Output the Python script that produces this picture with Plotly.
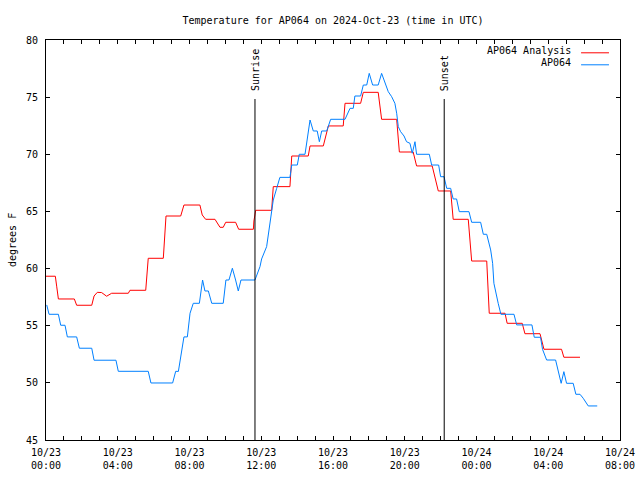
import plotly.graph_objects as go

# ---- data (hours since 2024-10-23 00:00 UTC, degrees F) ----
analysis_hours = [0.0, 0.52, 0.60, 0.69, 1.58, 1.71, 2.55, 2.68, 2.86, 3.10, 3.38, 3.66, 4.59, 4.68, 5.56, 5.70,
                  6.54, 6.69, 7.51, 7.69, 8.58, 8.71, 8.90, 9.42, 9.70, 9.88, 10.02, 10.57, 10.74, 11.56,
                  11.59, 11.69, 12.58, 12.67, 13.60, 13.70, 14.62, 14.72, 15.46, 15.74, 16.57, 16.67, 17.54,
                  17.69, 18.52, 18.71, 19.55, 19.70, 20.47, 20.66, 21.53, 21.87, 22.56, 22.70, 23.54, 23.73,
                  24.57, 24.71, 25.59, 25.71, 26.55, 26.70, 27.54, 27.76, 28.74, 28.87, 29.77]
analysis_temp = [59.33, 59.33, 58.4, 57.34, 57.34, 56.79, 56.79, 57.6, 57.92, 57.9, 57.58, 57.84, 57.84, 58.1, 58.1,
                 60.9, 60.9, 64.6, 64.6, 65.56, 65.56, 64.69, 64.31, 64.31, 63.61, 63.61, 64.05, 64.05, 63.44,
                 63.44, 64.16, 65.1, 65.1, 67.17, 67.17, 69.85, 69.85, 70.73, 70.73, 72.48, 72.48, 74.46,
                 74.46, 75.42, 75.42, 73.06, 73.06, 70.2, 70.2, 68.98, 68.98, 66.79, 66.79, 64.31, 64.31,
                 60.66, 60.66, 56.09, 56.09, 55.21, 55.21, 54.3, 54.3, 52.94, 52.94, 52.24, 52.24]

obs_hours = [0.04, 0.17, 0.69, 0.82, 1.06, 1.19, 1.71, 1.86, 2.55, 2.68, 3.90, 4.03, 5.70, 5.85, 7.06, 7.23,
             7.38, 7.56, 7.69, 7.88, 8.03, 8.21, 8.55, 8.73, 8.86, 9.05, 9.24, 9.88, 10.03, 10.20, 10.39,
             10.57, 10.72, 10.87, 11.65, 11.93, 12.02, 12.30, 12.49, 12.58, 12.67, 12.86, 13.04, 13.60,
             13.70, 14.01, 14.12, 14.44, 14.72, 14.90, 15.12, 15.24, 15.37, 15.65, 15.87, 16.67, 16.95,
             17.13, 17.22, 17.54, 17.69, 17.88, 18.02, 18.21, 18.52, 18.71, 18.90, 19.08, 19.27, 19.45,
             19.55, 19.64, 19.77, 19.96, 20.10, 20.29, 20.42, 20.57, 20.66, 21.37, 21.50, 21.89, 22.00,
             22.19, 22.34, 22.56, 22.70, 22.89, 23.04, 23.58, 23.73, 24.23, 24.38, 24.57, 24.79, 24.90,
             24.97, 25.08, 25.21, 25.36, 26.09, 26.24, 27.09, 27.22, 27.57, 27.68, 27.91, 28.41, 28.50,
             28.61, 28.72, 28.87, 29.02, 29.39, 29.54, 29.77, 29.95, 30.23, 30.73]
obs_temp = [56.82, 56.0, 56.0, 55.04, 55.04, 54.02, 54.02, 53.03, 53.03, 51.98, 51.98, 51.01, 51.01, 49.99,
            49.99, 51.01, 51.0, 53.03, 54.02, 54.02, 56.09, 56.96, 56.96, 59.0, 58.04, 58.04, 56.96, 56.96,
            59.0, 59.0, 60.03, 59.0, 58.04, 59.0, 59.0, 60.17, 60.84, 61.92, 64.25, 65.13, 66.0, 67.02,
            67.98, 67.98, 69.06, 69.06, 70.0, 70.0, 73.0, 72.04, 72.04, 71.1, 72.04, 72.04, 73.06, 73.06,
            74.02, 74.02, 75.1, 75.1, 76.06, 76.06, 77.08, 76.06, 76.06, 77.08, 76.2, 75.48, 75.04, 74.46,
            73.59, 72.42, 71.98, 71.6, 71.1, 70.96, 70.09, 71.1, 70.0, 70.0, 69.06, 69.06, 68.04,
            68.04, 67.02, 67.02, 66.09, 66.09, 64.98, 64.98, 64.05, 64.05, 63.0, 63.0, 61.63, 60.46,
            58.71, 57.84, 56.96, 56.0, 56.0, 55.07, 55.07, 53.99, 53.99, 52.94, 52.0, 52.0, 51.42,
            50.54, 49.96, 50.98, 49.96, 49.96, 49.0, 49.0, 48.65, 47.98, 47.98]

sunrise_hour = 11.65
sunset_hour = 22.2

x_tick_vals = list(range(0, 33))
x_tick_labels = {0: "10/23<br>00:00", 4: "10/23<br>04:00", 8: "10/23<br>08:00", 12: "10/23<br>12:00",
                 16: "10/23<br>16:00", 20: "10/23<br>20:00", 24: "10/24<br>00:00", 28: "10/24<br>04:00",
                 32: "10/24<br>08:00"}
x_tick_text = [x_tick_labels.get(v, "") for v in x_tick_vals]
y_tick_vals = [45, 50, 55, 60, 65, 70, 75, 80]

FONT = "DejaVu Sans Mono"

fig = go.Figure()
fig.add_trace(go.Scatter(x=analysis_hours, y=analysis_temp, mode="lines", name="AP064 Analysis",
                         line=dict(color="#ff0000", width=1), showlegend=False))
fig.add_trace(go.Scatter(x=obs_hours, y=obs_temp, mode="lines", name="AP064",
                         line=dict(color="#0080ff", width=1), showlegend=False))

for h, label in [(sunrise_hour, "Sunrise"), (sunset_hour, "Sunset")]:
    fig.add_shape(type="line", xref="x", yref="paper", x0=h, x1=h, y0=0, y1=0.8525,
                  line=dict(color="black", width=1))
    fig.add_annotation(x=h, xref="x", y=0.8675, yref="paper", text=label, textangle=-90,
                       showarrow=False, xanchor="center", yanchor="bottom", xshift=1,
                       font=dict(family=FONT, size=10, color="black"))

# legend (gnuplot style: text left of sample)
legend_items = [("AP064 Analysis", "#ff0000", 0.973), ("AP064", "#0080ff", 0.943)]
for text, color, yp in legend_items:
    fig.add_annotation(x=0.918, xref="paper", y=yp, yref="paper", text=text, showarrow=False,
                       xanchor="right", yanchor="middle", font=dict(family=FONT, size=10, color="black"))
    fig.add_shape(type="line", xref="paper", yref="paper", x0=0.9322, x1=0.9808, y0=yp - 0.005, y1=yp - 0.005,
                  line=dict(color=color, width=1))

fig.add_annotation(x=-0.0592, xref="paper", y=0.5, yref="paper", text="degrees F", textangle=-90,
                   showarrow=False, xanchor="center", yanchor="middle",
                   font=dict(family=FONT, size=10, color="black"))

fig.update_layout(
    width=640, height=480,
    margin=dict(l=46, r=20, t=40, b=40, autoexpand=False),
    paper_bgcolor="white", plot_bgcolor="white",
    title=dict(text="Temperature for AP064 on 2024-Oct-23 (time in UTC)", x=0.5, xref="paper",
               xanchor="center", y=1 - 20 / 480, yanchor="middle",
               font=dict(family=FONT, size=10, color="black")),
    font=dict(family=FONT, size=10, color="black"),
    showlegend=False,
)
fig.update_xaxes(range=[0, 32], tickvals=x_tick_vals, ticktext=x_tick_text, ticks="inside", ticklen=4,
                 showline=True, linecolor="black", linewidth=1, mirror="ticks", showgrid=False,
                 zeroline=False, tickcolor="black", automargin=False, ticklabelstandoff=3,
                 tickfont=dict(family=FONT, size=10, color="black"))
fig.update_yaxes(range=[45, 80], tickvals=y_tick_vals, ticks="inside", ticklen=4,
                 showline=True, linecolor="black", linewidth=1, mirror="ticks", showgrid=False,
                 zeroline=False, tickcolor="black", automargin=False, ticklabelstandoff=5,
                 tickfont=dict(family=FONT, size=10, color="black"))

fig.write_html("out.html")
